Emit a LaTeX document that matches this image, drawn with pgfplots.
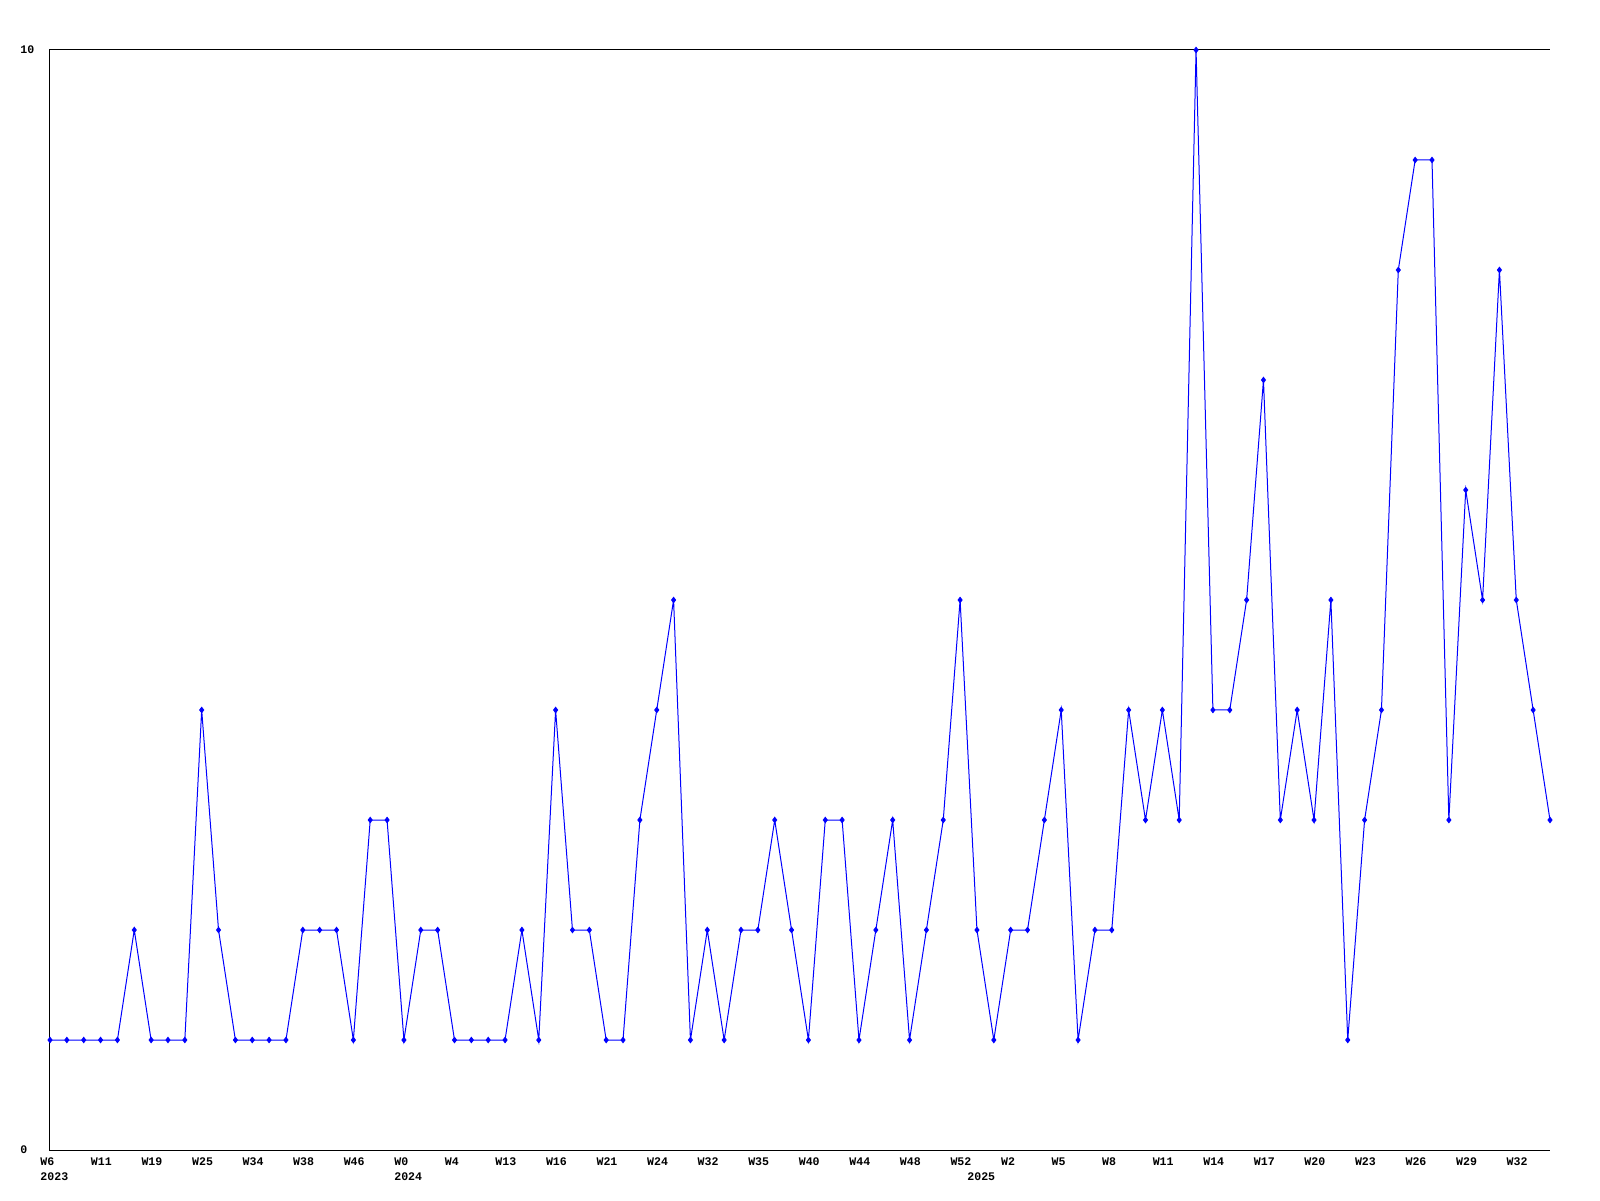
\documentclass[border=0pt]{standalone}
\usepackage{pgfplots}
\pgfplotsset{compat=1.18}
\usepackage{fontspec}
\setmainfont{Liberation Mono}
\begin{document}
\begin{tikzpicture}
\useasboundingbox (-25pt,-25pt) rectangle (775pt,575pt);
\begin{axis}[
  at={(0pt,0pt)}, anchor=south west,
  scale only axis, width=750pt, height=550pt,
  xmin=0, xmax=89, ymin=0, ymax=10,
  axis line style={draw=none}, clip=false,
  xtick={0,3,...,87},
  xticklabels={W6,W11,W19,W25,W34,W38,W46,W0,W4,W13,W16,W21,W24,W32,W35,W40,W44,W48,W52,W2,W5,W8,W11,W14,W17,W20,W23,W26,W29,W32},
  ytick={0,10},
  major tick length=0pt, tick style={draw=none},
  /pgf/number format/assume math mode=true,
  tick label style={font=\fontsize{5.8}{6}\selectfont\bfseries, inner sep=0pt},
  xticklabel style={anchor=west, xshift=-5pt, yshift=-6pt},
  yticklabel style={anchor=west, xshift=-15pt},
]
\draw[black, line width=0.5pt] (rel axis cs:1,1) -- (rel axis cs:0,1) -- (rel axis cs:0,0) -- (rel axis cs:1,0);
\addplot[color={rgb,255:red,0;green,0;blue,255}, line width=0.5pt, mark=diamond*, mark size=1.3pt] coordinates {
(0,1)(1,1)(2,1)(3,1)(4,1)(5,2)(6,1)(7,1)(8,1)(9,4)
(10,2)(11,1)(12,1)(13,1)(14,1)(15,2)(16,2)(17,2)(18,1)(19,3)
(20,3)(21,1)(22,2)(23,2)(24,1)(25,1)(26,1)(27,1)(28,2)(29,1)
(30,4)(31,2)(32,2)(33,1)(34,1)(35,3)(36,4)(37,5)(38,1)(39,2)
(40,1)(41,2)(42,2)(43,3)(44,2)(45,1)(46,3)(47,3)(48,1)(49,2)
(50,3)(51,1)(52,2)(53,3)(54,5)(55,2)(56,1)(57,2)(58,2)(59,3)
(60,4)(61,1)(62,2)(63,2)(64,4)(65,3)(66,4)(67,3)(68,10)(69,4)
(70,4)(71,5)(72,7)(73,3)(74,4)(75,3)(76,5)(77,1)(78,3)(79,4)
(80,8)(81,9)(82,9)(83,3)(84,6)(85,5)(86,8)(87,5)(88,4)(89,3)
};
\node[anchor=west, inner sep=0pt, xshift=-5pt, yshift=-13.5pt, font=\fontsize{5.8}{6}\selectfont\bfseries] at (axis cs:0,0) {2023};
\node[anchor=west, inner sep=0pt, xshift=-5pt, yshift=-13.5pt, font=\fontsize{5.8}{6}\selectfont\bfseries] at (axis cs:21,0) {2024};
\node[anchor=west, inner sep=0pt, xshift=-5pt, yshift=-13.5pt, font=\fontsize{5.8}{6}\selectfont\bfseries] at (axis cs:55,0) {2025};
\end{axis}
\end{tikzpicture}
\end{document}
